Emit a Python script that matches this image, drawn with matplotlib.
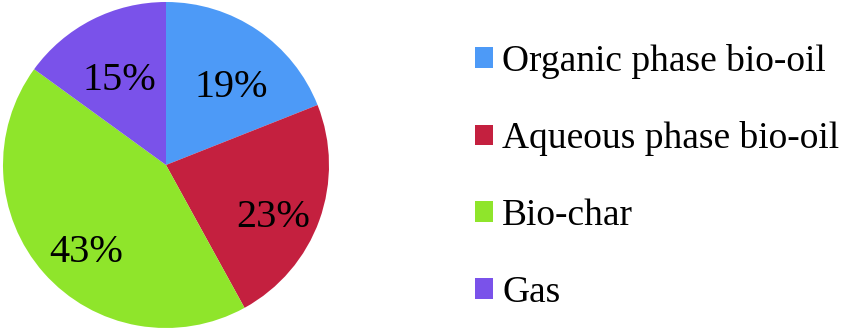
import matplotlib.pyplot as plt

labels = ["Organic phase bio-oil", "Aqueous phase bio-oil", "Bio-char", "Gas"]
shares = [19, 23, 43, 15]
colors = ["#4d9af7", "#c4203f", "#8fe52b", "#7a52ea"]

plt.rcParams["font.family"] = ["Liberation Serif", "DejaVu Serif"]

fig = plt.figure(figsize=(8.41, 3.31), dpi=100)
ax = fig.add_axes([3 / 841, 3 / 331, 326 / 841, 326 / 331])

wedges, texts, autotexts = ax.pie(
    shares, colors=colors, startangle=90, counterclock=False,
    autopct="%d%%", pctdistance=0.68, radius=1,
    textprops={"fontsize": 29, "color": "black"},
)
# labels sit a bit lower than the wedge midpoints in the original
for t in autotexts:
    x, y = t.get_position()
    t.set_position((x + 0.02, y - 0.09))
ax.set_xlim(-1, 1)
ax.set_ylim(-1, 1)
ax.set_aspect("equal")
ax.axis("off")

fig.legend(
    wedges, labels, loc="upper left", bbox_to_anchor=(475 / 841, 1 - 44 / 331),
    frameon=False, fontsize=27, handlelength=0.48, handleheight=0.48,
    handletextpad=0.24, labelspacing=1.13, borderpad=0, borderaxespad=0,
)

fig.savefig("out.png", dpi=100)
